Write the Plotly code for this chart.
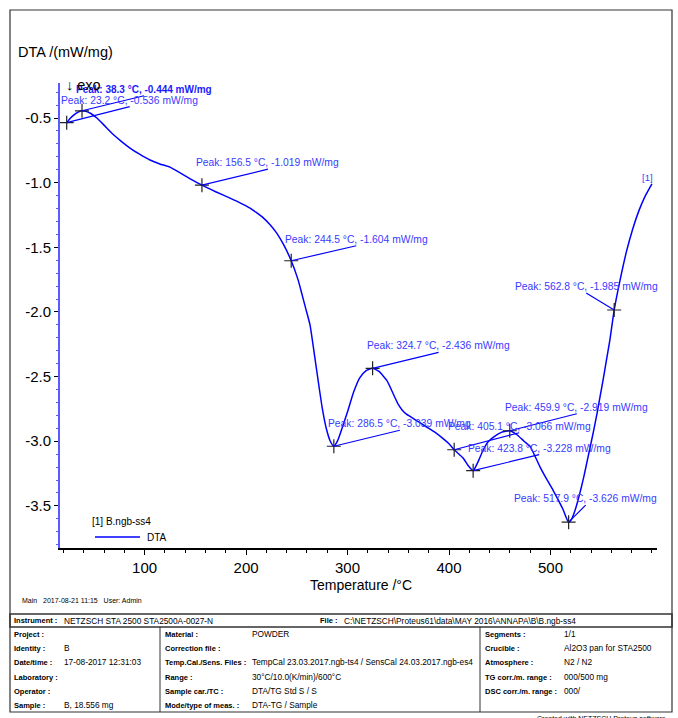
import plotly.graph_objects as go

# ---------------- data ----------------
temps = [23.2, 27, 31, 35, 38.3, 42, 47, 53, 60, 68, 77, 85.6, 95, 105.3, 115, 125, 135, 145,
         156.5, 170, 184.2, 195, 203.9, 210, 216.7, 223, 230.2, 237, 244.5, 251.2, 255, 259, 263,
         267, 271, 275, 279, 283, 286.5, 290, 295, 300.5, 306, 312, 318, 324.7, 331, 338.7,
         346, 350, 354, 358, 362, 370, 378, 386, 394.2, 400, 405.1, 413.9, 419, 423.8, 428, 433.6,
         438, 443.5, 452, 459.9, 467, 474, 479.9, 485, 489.8, 496, 502.6, 508, 512.5, 515.5, 517.9,
         521, 524, 527, 530, 533, 536, 539, 542.5, 546, 549, 552, 555, 558.5, 562.8, 568.7, 575,
         581, 587, 593, 600]
dta = [-0.536, -0.500, -0.472, -0.452, -0.444, -0.447, -0.465, -0.500, -0.555, -0.620, -0.680,
       -0.732, -0.780, -0.825, -0.855, -0.880, -0.925, -0.970, -1.019, -1.070, -1.120, -1.160,
       -1.197, -1.230, -1.270, -1.320, -1.390, -1.480, -1.604, -1.750, -1.860, -1.980, -2.100,
       -2.310, -2.530, -2.740, -2.900, -3.000, -3.039, -3.000, -2.890, -2.760, -2.620, -2.510,
       -2.455, -2.436, -2.460, -2.530, -2.650, -2.715, -2.760, -2.790, -2.810, -2.850, -2.890,
       -2.930, -2.980, -3.020, -3.066, -3.130, -3.190, -3.228, -3.170, -3.070, -3.010, -2.970,
       -2.930, -2.919, -2.950, -3.000, -3.040, -3.120, -3.200, -3.290, -3.380, -3.460, -3.530,
       -3.590, -3.626, -3.600, -3.540, -3.460, -3.370, -3.270, -3.160, -3.050, -2.920, -2.780,
       -2.650, -2.520, -2.380, -2.220, -1.985, -1.750, -1.530, -1.360, -1.220, -1.110, -1.010]

peak_t = [23.2, 38.3, 156.5, 244.5, 286.5, 324.7, 405.1, 423.8, 459.9, 517.9, 562.8]
peak_v = [-0.536, -0.444, -1.019, -1.604, -3.039, -2.436, -3.066, -3.228, -2.919, -3.626, -1.985]

x_tick_vals = [100, 200, 300, 400, 500]
x_tick_text = ["100", "200", "300", "400", "500"]
y_tick_vals = [-3.5, -3.0, -2.5, -2.0, -1.5, -1.0, -0.5]
y_tick_text = ["-3.5", "-3.0", "-2.5", "-2.0", "-1.5", "-1.0", "-0.5"]

y_title = "DTA /(mW/mg)"
x_title = "Temperature /°C"
legend_file = "[1] B.ngb-ss4"
legend_name = "DTA"
footer_main = "Main   2017-08-21 11:15   User: Admin"
footer_created = "Created with NETZSCH Proteus software"

header_instr = ["Instrument :", "NETZSCH STA 2500 STA2500A-0027-N"]
header_file = ["File :", "C:\\NETZSCH\\Proteus61\\data\\MAY 2016\\ANNAPA\\B\\B.ngb-ss4"]
col1_labels = ["Project :", "Identity :", "Date/time :", "Laboratory :", "Operator :", "Sample :"]
col1_values = ["", "B", "17-08-2017 12:31:03", "", "", "B, 18.556 mg"]
col2_labels = ["Material :", "Correction file :", "Temp.Cal./Sens. Files :", "Range :",
               "Sample car./TC :", "Mode/type of meas. :"]
col2_values = ["POWDER", "", "TempCal 23.03.2017.ngb-ts4 / SensCal 24.03.2017.ngb-es4",
               "30°C/10.0(K/min)/600°C", "DTA/TG Std S / S", "DTA-TG / Sample"]
col3_labels = ["Segments :", "Crucible :", "Atmosphere :", "TG corr./m. range :",
               "DSC corr./m. range :", ""]
col3_values = ["1/1", "Al2O3 pan for STA2500", "N2 / N2", "000/500 mg", "000/", ""]

# ---------------- layout helpers ----------------
W, H = 678, 718
L, R, T, B = 60, 657, 83, 548
FONT = "Liberation Sans, Arial, sans-serif"
BLUE = "#0000ff"
LBLUE = "#3a3aff"


def PX(x):
    return (x - L) / (R - L)


def PY(y):
    return (B - y) / (B - T)


# label offsets (pixels) from the peak point to the bottom-centre of the text
label_offsets = [(63, -16), (62, -15), (66, -16), (65, -15), (66, -16), (66, -16),
                 (65, -17), (66, -16), (67, -17), (17, -17), (-28, -17)]
bold_flags = [False, True, False, False, False, False, False, False, False, False, False]

fig = go.Figure()
fig.add_trace(go.Scatter(x=temps, y=dta, mode="lines",
                         line=dict(color=BLUE, width=1.5, shape="spline", smoothing=0.5),
                         showlegend=False, hoverinfo="skip"))
fig.add_trace(go.Scatter(x=peak_t, y=peak_v, mode="markers",
                         marker=dict(symbol="cross-thin", size=10, color="#222",
                                     line=dict(width=1.2, color="#222")),
                         showlegend=False, hoverinfo="skip"))

shapes = []
annotations = []
for t, v, (dx, dy), bold in zip(peak_t, peak_v, label_offsets, bold_flags):
    shapes.append(dict(type="line", xref="x", yref="y", xsizemode="pixel", ysizemode="pixel",
                       xanchor=t, yanchor=v, x0=0, y0=0, x1=dx, y1=-dy,
                       line=dict(color=BLUE, width=1.2)))
    txt = f"Peak: {t:.1f} °C, {v:.3f} mW/mg"
    if bold:
        txt = "<b>" + txt + "</b>"
    annotations.append(dict(x=t, y=v, xref="x", yref="y", xshift=dx, yshift=-dy,
                            xanchor="center", yanchor="bottom", showarrow=False, text=txt,
                            borderpad=0,
                            font=dict(family=FONT, size=10.3 if not bold else 10,
                                      color="#1a1aff" if bold else LBLUE)))

# end label [1]
annotations.append(dict(x=temps[-1], y=dta[-1], xref="x", yref="y", xshift=-4, yshift=6,
                        xanchor="center", yanchor="middle", showarrow=False, text="[1]",
                        font=dict(family=FONT, size=9.5, color=LBLUE)))

# y title, exo marker, x title
annotations.append(dict(x=PX(16), y=PY(52), xref="paper", yref="paper", xanchor="left",
                        yanchor="middle", showarrow=False, text=y_title,
                        font=dict(family=FONT, size=14.5, color="black")))
annotations.append(dict(x=PX(64), y=PY(85), xref="paper", yref="paper", xanchor="left",
                        yanchor="middle", showarrow=False, text="↓ exo",
                        font=dict(family=FONT, size=14.5, color="black")))
annotations.append(dict(x=PX(361), y=PY(585), xref="paper", yref="paper", xanchor="center",
                        yanchor="middle", showarrow=False, text=x_title,
                        font=dict(family=FONT, size=14, color="black")))

# legend
annotations.append(dict(x=PX(90), y=PY(521), xref="paper", yref="paper", xanchor="left",
                        yanchor="middle", showarrow=False, text=legend_file,
                        font=dict(family=FONT, size=10, color="black")))
annotations.append(dict(x=PX(145), y=PY(537), xref="paper", yref="paper", xanchor="left",
                        yanchor="middle", showarrow=False, text=legend_name,
                        font=dict(family=FONT, size=10, color="black")))
shapes.append(dict(type="line", xref="paper", yref="paper", x0=PX(95), x1=PX(140),
                   y0=PY(537), y1=PY(537), line=dict(color=BLUE, width=1.3)))

# footer
annotations.append(dict(x=PX(20), y=PY(600), xref="paper", yref="paper", xanchor="left",
                        yanchor="middle", showarrow=False, text=footer_main,
                        font=dict(family=FONT, size=7, color="black")))
annotations.append(dict(x=PX(668), y=PY(718), xref="paper", yref="paper", xanchor="right",
                        yanchor="middle", showarrow=False, text=footer_created,
                        font=dict(family=FONT, size=7, color="black")))

# outer frame
shapes.append(dict(type="rect", xref="paper", yref="paper", x0=PX(10), x1=PX(672),
                   y0=PY(10), y1=PY(712), line=dict(color="#333", width=1.2)))
# table header row
shapes.append(dict(type="rect", xref="paper", yref="paper", x0=PX(10), x1=PX(672),
                   y0=PY(614), y1=PY(627), line=dict(color="#333", width=1.5)))
# table body dividers
for xdiv in (160, 480):
    shapes.append(dict(type="line", xref="paper", yref="paper", x0=PX(xdiv), x1=PX(xdiv),
                       y0=PY(627), y1=PY(712), line=dict(color="#333", width=1)))


def tab_text(x, y, s, bold=False):
    if not s:
        return
    annotations.append(dict(x=PX(x), y=PY(y), xref="paper", yref="paper", xanchor="left",
                            yanchor="middle", showarrow=False,
                            text=("<b>" + s + "</b>") if bold else s,
                            font=dict(family=FONT, size=7.5 if bold else 8.3, color="black")))


tab_text(12, 620.5, header_instr[0], True)
tab_text(62, 620.5, header_instr[1])
tab_text(318, 620.5, header_file[0], True)
tab_text(342, 620.5, header_file[1])
row_y = [634, 648, 662, 677, 691, 705]
for i, yy in enumerate(row_y):
    tab_text(12, yy, col1_labels[i], True)
    tab_text(62, yy, col1_values[i])
    tab_text(163, yy, col2_labels[i], True)
    tab_text(250, yy, col2_values[i])
    tab_text(483, yy, col3_labels[i], True)
    tab_text(562, yy, col3_values[i])

fig.update_layout(
    width=W, height=H, autosize=False,
    margin=dict(l=L, r=W - R, t=T, b=H - B, pad=0),
    paper_bgcolor="white", plot_bgcolor="white",
    shapes=shapes, annotations=annotations,
    font=dict(family=FONT, color="black"),
    showlegend=False,
)
fig.update_xaxes(range=[16.6, 605], showgrid=False, zeroline=False, showline=True,
                 linecolor="black", linewidth=2, ticks="outside", ticklen=5, tickwidth=1,
                 tickcolor="black", tickvals=x_tick_vals, ticktext=x_tick_text,
                 tickfont=dict(family=FONT, size=15, color="black"),
                 minor=dict(dtick=20, tick0=0, ticks="outside", ticklen=3, tickcolor="black"))
fig.update_yaxes(range=[-3.826, -0.229], showgrid=False, zeroline=False, showline=True,
                 linecolor="#5a5aff", linewidth=2, ticks="outside", ticklen=4, tickwidth=1,
                 tickcolor="black", tickvals=y_tick_vals, ticktext=y_tick_text,
                 tickfont=dict(family=FONT, size=15, color="black"),
                 minor=dict(dtick=0.1, tick0=0, ticks="outside", ticklen=2, tickcolor="#5a5aff"))

fig.write_html("out.html", config={"displayModeBar": False},
               post_script="document.body.style.margin='0px';document.body.style.overflow='hidden';")
